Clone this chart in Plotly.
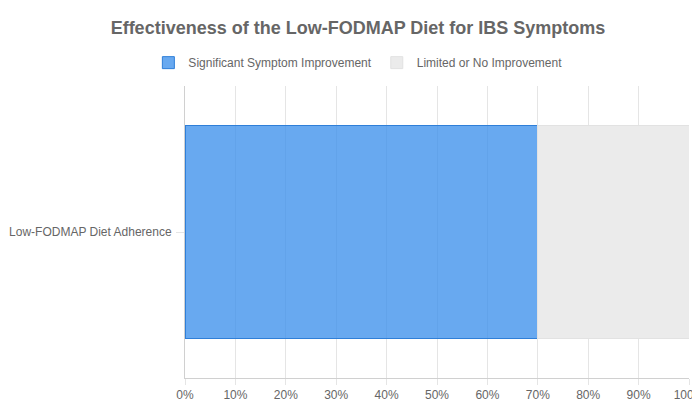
import plotly.graph_objects as go

category = ["Low-FODMAP Diet Adherence"]
improved = [70]
limited = [30]
tick_vals = list(range(0, 101, 10))
tick_text = [f"{v}%" for v in tick_vals]

fig = go.Figure()
fig.add_trace(go.Bar(
    y=category, x=improved, orientation="h", name="Significant Symptom Improvement",
    marker=dict(color="rgba(54,140,235,0.75)", line=dict(color="#2f7fd8", width=1)),
))
fig.add_trace(go.Bar(
    y=category, x=limited, orientation="h", name="Limited or No Improvement",
    marker=dict(color="#ebebeb", line=dict(color="#e2e2e2", width=1)),
))

fig.update_layout(
    barmode="stack",
    bargap=0.27,
    width=700, height=400,
    paper_bgcolor="white", plot_bgcolor="white",
    font=dict(family="Arial, Liberation Sans", size=12, color="#666"),
    title=dict(text="<b>Effectiveness of the Low-FODMAP Diet for IBS Symptoms</b>",
               x=0.5, y=0.95, xanchor="center", yanchor="middle",
               font=dict(size=18, color="#666")),
    legend=dict(orientation="h", x=0.343, y=1.08, xanchor="center", yanchor="middle",
                font=dict(size=12, color="#666"), traceorder="normal"),
    margin=dict(l=177, r=19, t=78, b=30, autoexpand=False),
    xaxis=dict(range=[0, 100], tickvals=tick_vals, ticktext=tick_text,
               showgrid=True, gridcolor="#e5e5e5", zeroline=False,
               showline=True, linecolor="#d0d0d0", ticks="outside",
               ticklen=6, tickcolor="#e5e5e5", fixedrange=True, automargin=False),
    yaxis=dict(showline=True, linecolor="#d0d0d0", ticks="outside", ticklen=8,
               tickcolor="#e5e5e5", ticklabelstandoff=2, fixedrange=True, automargin=False),
)

fig.write_html("out.html")
